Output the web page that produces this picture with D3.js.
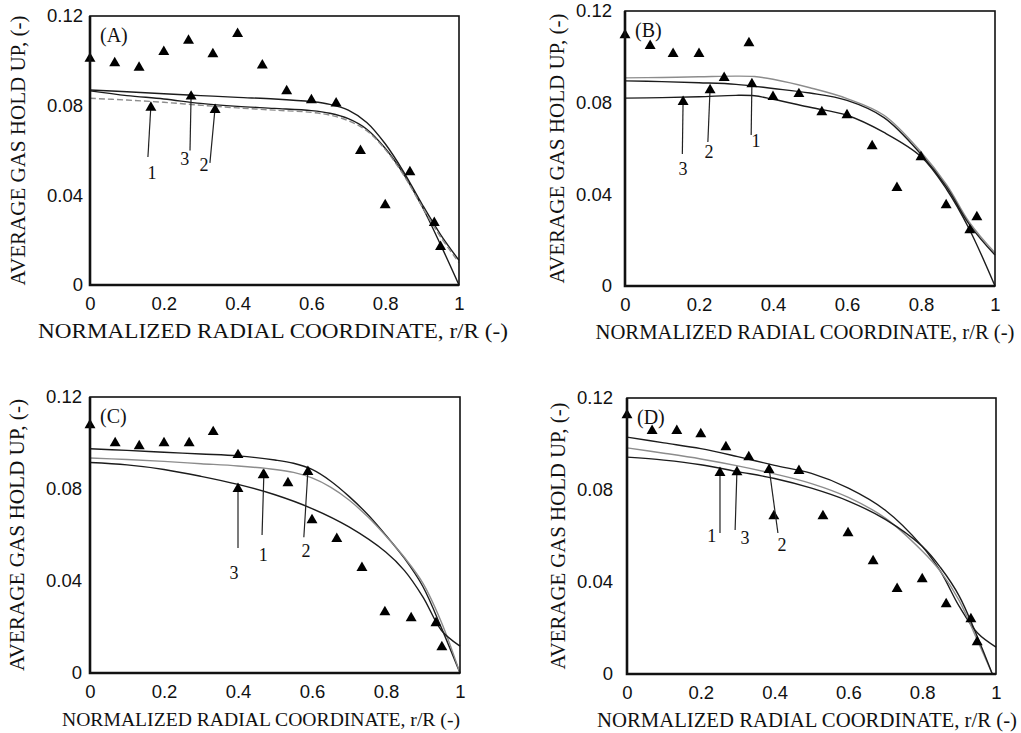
<!DOCTYPE html>
<html>
<head>
<meta charset="utf-8">
<script src="https://cdn.jsdelivr.net/npm/d3@7"></script>
<style>
  body { margin: 0; background: #fff; }
  svg { display: block; }
  .tick text { font-family: "Liberation Sans", Arial, sans-serif; font-size: 18.5px; fill: #111; }
  .ttl { font-family: "Liberation Serif", "Times New Roman", serif; fill: #111; }
</style>
</head>
<body>
<svg width="1021" height="733"></svg>
<script>
// axis ticks
var xTicks = [0, 0.2, 0.4, 0.6, 0.8, 1];
var yTicks = [0, 0.04, 0.08, 0.12];

// measured points (triangles)
var measA = [[0,0.101],[0.067,0.099],[0.133,0.097],[0.2,0.104],[0.267,0.109],[0.333,0.103],[0.4,0.112],[0.467,0.098],[0.533,0.0865],[0.6,0.0825],[0.667,0.081],[0.733,0.0598],[0.8,0.0357],[0.867,0.0504],[0.933,0.0277],[0.95,0.017]];
var measB = [[0,0.1095],[0.068,0.1048],[0.13,0.1013],[0.2,0.1013],[0.268,0.0908],[0.335,0.106],[0.4,0.0825],[0.47,0.0838],[0.532,0.0759],[0.6,0.0746],[0.668,0.0611],[0.735,0.0428],[0.8,0.0563],[0.868,0.0353],[0.932,0.0244],[0.951,0.0301]];
var measC = [[0,0.1078],[0.068,0.100],[0.133,0.0987],[0.2,0.100],[0.268,0.100],[0.333,0.1048],[0.4,0.0948],[0.468,0.0861],[0.535,0.0826],[0.6,0.0665],[0.667,0.0583],[0.735,0.0457],[0.797,0.0265],[0.868,0.0239],[0.935,0.0217],[0.951,0.0113]];
var measD = [[0,0.1126],[0.068,0.1057],[0.135,0.1057],[0.2,0.1043],[0.268,0.0987],[0.33,0.0943],[0.466,0.0883],[0.398,0.0687],[0.531,0.0687],[0.599,0.0613],[0.667,0.0491],[0.732,0.037],[0.8,0.0413],[0.865,0.0304],[0.932,0.0239],[0.949,0.0139]];

// model curves
var lineA1 = [[0,0.087],[0.1,0.0862],[0.2,0.0853],[0.3,0.0845],[0.4,0.0837],[0.5,0.083],[0.6,0.0818],[0.65,0.0806],[0.7,0.078],[0.75,0.0725],[0.8,0.063],[0.85,0.0505],[0.9,0.036],[0.95,0.0225],[1,0.011]];
var lineA2 = [[0,0.0866],[0.1,0.0845],[0.2,0.083],[0.3,0.081],[0.4,0.0797],[0.5,0.0788],[0.6,0.0778],[0.65,0.0766],[0.7,0.0742],[0.75,0.0695],[0.8,0.061],[0.85,0.0495],[0.9,0.035],[0.95,0.018],[1,0]];
var lineA3 = [[0,0.0833],[0.1,0.0825],[0.2,0.0815],[0.3,0.0802],[0.4,0.079],[0.5,0.078],[0.6,0.077],[0.65,0.0758],[0.7,0.0733],[0.75,0.0688],[0.8,0.0605],[0.85,0.049],[0.9,0.035],[0.95,0.0215],[1,0.010]];

var lineB1 = [[0,0.0908],[0.1,0.091],[0.2,0.0913],[0.3,0.0916],[0.35,0.0914],[0.4,0.0902],[0.5,0.0865],[0.6,0.0818],[0.7,0.0745],[0.8,0.0585],[0.87,0.044],[0.93,0.028],[1,0.0145]];
var lineB2 = [[0,0.0895],[0.1,0.0892],[0.2,0.0887],[0.3,0.088],[0.4,0.0862],[0.5,0.0842],[0.6,0.081],[0.7,0.0735],[0.8,0.0575],[0.87,0.043],[0.93,0.027],[1,0.0135]];
var lineB3 = [[0,0.082],[0.1,0.0822],[0.2,0.0826],[0.3,0.0832],[0.35,0.083],[0.4,0.0815],[0.5,0.078],[0.6,0.0745],[0.7,0.067],[0.8,0.0565],[0.87,0.042],[0.93,0.025],[1,0]];

var lineC1 = [[0,0.0975],[0.1,0.0968],[0.2,0.096],[0.3,0.0952],[0.4,0.0944],[0.5,0.0926],[0.55,0.0912],[0.6,0.0885],[0.65,0.0835],[0.7,0.0768],[0.75,0.069],[0.8,0.0598],[0.85,0.0498],[0.9,0.0375],[0.95,0.0195],[1,0]];
var lineC2 = [[0,0.0935],[0.1,0.0928],[0.2,0.092],[0.3,0.091],[0.4,0.090],[0.5,0.0885],[0.55,0.0872],[0.6,0.0848],[0.65,0.0808],[0.7,0.0752],[0.75,0.068],[0.8,0.0595],[0.85,0.0502],[0.9,0.039],[0.95,0.022],[1,0]];
var lineC3 = [[0,0.0915],[0.1,0.0905],[0.2,0.0885],[0.3,0.0855],[0.4,0.082],[0.5,0.0775],[0.6,0.0715],[0.7,0.0635],[0.8,0.0525],[0.85,0.0445],[0.9,0.033],[0.95,0.0185],[1,0.0117]];

var lineD1 = [[0,0.103],[0.1,0.1005],[0.2,0.098],[0.3,0.0945],[0.4,0.0907],[0.5,0.0872],[0.6,0.0808],[0.7,0.0712],[0.8,0.0555],[0.85,0.0445],[0.9,0.0295],[0.95,0.0178],[1,0.0117]];
var lineD2 = [[0,0.0983],[0.1,0.096],[0.2,0.0935],[0.3,0.0905],[0.4,0.087],[0.5,0.0828],[0.6,0.0768],[0.7,0.0678],[0.8,0.0535],[0.85,0.0445],[0.9,0.032],[0.95,0.0145],[0.99,0]];
var lineD3 = [[0,0.0943],[0.1,0.093],[0.2,0.091],[0.3,0.088],[0.4,0.085],[0.5,0.0808],[0.6,0.0752],[0.7,0.0672],[0.8,0.0555],[0.85,0.0462],[0.9,0.034],[0.95,0.016],[0.99,0]];

// arrow annotations: label, tail, head, label position
var arrowsA = [
  {t:"1", x0:0.157, y0:0.0571, x1:0.165, y1:0.080, lx:0.168, ly:0.050},
  {t:"3", x0:0.271, y0:0.060, x1:0.274, y1:0.085, lx:0.257, ly:0.056},
  {t:"2", x0:0.325, y0:0.0545, x1:0.339, y1:0.079, lx:0.309, ly:0.0535}
];
var arrowsB = [
  {t:"3", x0:0.155, y0:0.0576, x1:0.157, y1:0.0812, lx:0.157, ly:0.051},
  {t:"2", x0:0.224, y0:0.0628, x1:0.23, y1:0.0864, lx:0.227, ly:0.0585},
  {t:"1", x0:0.341, y0:0.0659, x1:0.343, y1:0.089, lx:0.354, ly:0.0633}
];
var arrowsC = [
  {t:"3", x0:0.4, y0:0.0543, x1:0.4, y1:0.0809, lx:0.389, ly:0.0435},
  {t:"1", x0:0.465, y0:0.060, x1:0.47, y1:0.087, lx:0.468, ly:0.0513},
  {t:"2", x0:0.578, y0:0.059, x1:0.589, y1:0.0883, lx:0.584, ly:0.053}
];
var arrowsD = [
  {t:"1", x0:0.252, y0:0.0613, x1:0.252, y1:0.0883, lx:0.23, ly:0.060},
  {t:"3", x0:0.293, y0:0.0626, x1:0.298, y1:0.0887, lx:0.32, ly:0.059},
  {t:"2", x0:0.409, y0:0.0613, x1:0.385, y1:0.0896, lx:0.42, ly:0.056}
];

var black = "#1c1c1c", grey = "#8c8c8c";

var panels = [
  { tag:"(A)", left:90, right:459, top:16, bottom:285, ypad:7, tx:273, tlen:470, tsize:22, yx:18, ylen:270,
    meas:measA, arrows:arrowsA,
    lines:[{d:lineA1, c:black}, {d:lineA2, c:black}, {d:lineA3, c:grey, dash:"6,3"}] },
  { tag:"(B)", left:625, right:995, top:11, bottom:286, ypad:13, tx:805, tlen:419, tsize:20, yx:557, ylen:270,
    meas:measB, arrows:arrowsB,
    lines:[{d:lineB1, c:grey}, {d:lineB2, c:black}, {d:lineB3, c:black}] },
  { tag:"(C)", left:90, right:460, top:397, bottom:673, ypad:8, tx:261, tlen:398, tsize:19.5, yx:17, ylen:272,
    meas:measC, arrows:arrowsC,
    lines:[{d:lineC1, c:black}, {d:lineC2, c:grey}, {d:lineC3, c:black}] },
  { tag:"(D)", left:627, right:996, top:398, bottom:674, ypad:14, tx:807, tlen:420, tsize:20.5, yx:558, ylen:267,
    meas:measD, arrows:arrowsD,
    lines:[{d:lineD1, c:black}, {d:lineD2, c:grey}, {d:lineD3, c:black}] }
];

var svg = d3.select("svg");
var tri = d3.symbol().type(d3.symbolTriangle).size(52);

panels.forEach(function (p) {
  var x = d3.scaleLinear().domain([0, 1]).range([p.left, p.right]);
  var y = d3.scaleLinear().domain([0, 0.12]).range([p.bottom, p.top]);
  var g = svg.append("g");

  // axes, labels only
  g.append("g")
    .attr("transform", "translate(0," + p.bottom + ")")
    .call(d3.axisBottom(x).tickValues(xTicks).tickSize(0).tickPadding(12).tickFormat(d3.format("~g")))
    .call(function (s) { s.select(".domain").remove(); });
  g.append("g")
    .attr("transform", "translate(" + p.left + ",0)")
    .call(d3.axisLeft(y).tickValues(yTicks).tickSize(0).tickPadding(p.ypad).tickFormat(d3.format("~g")))
    .call(function (s) { s.select(".domain").remove(); });

  // model curves
  var line = d3.line()
    .x(function (d) { return x(d[0]); })
    .y(function (d) { return y(d[1]); })
    .curve(d3.curveCatmullRom.alpha(0.5));
  p.lines.forEach(function (l) {
    g.append("path")
      .attr("d", line(l.d))
      .attr("fill", "none")
      .attr("stroke", l.c)
      .attr("stroke-width", 1.4)
      .attr("stroke-dasharray", l.dash || null);
  });

  // measured triangles
  g.selectAll(".pt").data(p.meas).enter().append("path")
    .attr("class", "pt")
    .attr("d", tri)
    .attr("transform", function (d) { return "translate(" + x(d[0]) + "," + y(d[1]) + ")"; })
    .attr("fill", "#000");

  // arrows with numbers
  p.arrows.forEach(function (a) {
    g.append("line")
      .attr("x1", x(a.x0)).attr("y1", y(a.y0))
      .attr("x2", x(a.x1)).attr("y2", y(a.y1))
      .attr("stroke", "#222").attr("stroke-width", 1.2);
    g.append("path")
      .attr("d", tri)
      .attr("transform", "translate(" + x(a.x1) + "," + (y(a.y1) + 2) + ")")
      .attr("fill", "#000");
    g.append("text")
      .attr("class", "ttl")
      .attr("x", x(a.lx)).attr("y", y(a.ly))
      .attr("text-anchor", "middle")
      .attr("dominant-baseline", "central")
      .attr("font-size", 18)
      .text(a.t);
  });

  // frame: thin top/right, heavier left/bottom
  g.append("rect")
    .attr("x", p.left).attr("y", p.top)
    .attr("width", p.right - p.left).attr("height", p.bottom - p.top)
    .attr("fill", "none").attr("stroke", "#111").attr("stroke-width", 1.6);
  g.append("path")
    .attr("d", "M" + p.left + "," + p.top + "V" + p.bottom + "H" + p.right)
    .attr("fill", "none").attr("stroke", "#111").attr("stroke-width", 2.6);

  // panel tag
  g.append("text")
    .attr("class", "ttl")
    .attr("x", p.left + 10).attr("y", p.top + 26)
    .attr("font-size", 20)
    .text(p.tag);

  // axis titles
  g.append("text")
    .attr("class", "ttl")
    .attr("x", p.tx).attr("y", p.bottom + 53)
    .attr("text-anchor", "middle")
    .attr("font-size", p.tsize)
    .attr("textLength", p.tlen)
    .attr("lengthAdjust", "spacingAndGlyphs")
    .text("NORMALIZED RADIAL COORDINATE, r/R (-)");
  g.append("text")
    .attr("class", "ttl")
    .attr("transform", "translate(" + p.yx + "," + ((p.top + p.bottom) / 2) + ") rotate(-90)")
    .attr("text-anchor", "middle")
    .attr("dominant-baseline", "central")
    .attr("font-size", 21)
    .attr("textLength", p.ylen)
    .attr("lengthAdjust", "spacingAndGlyphs")
    .text("AVERAGE GAS HOLD UP, (-)");
});
</script>
</body>
</html>
